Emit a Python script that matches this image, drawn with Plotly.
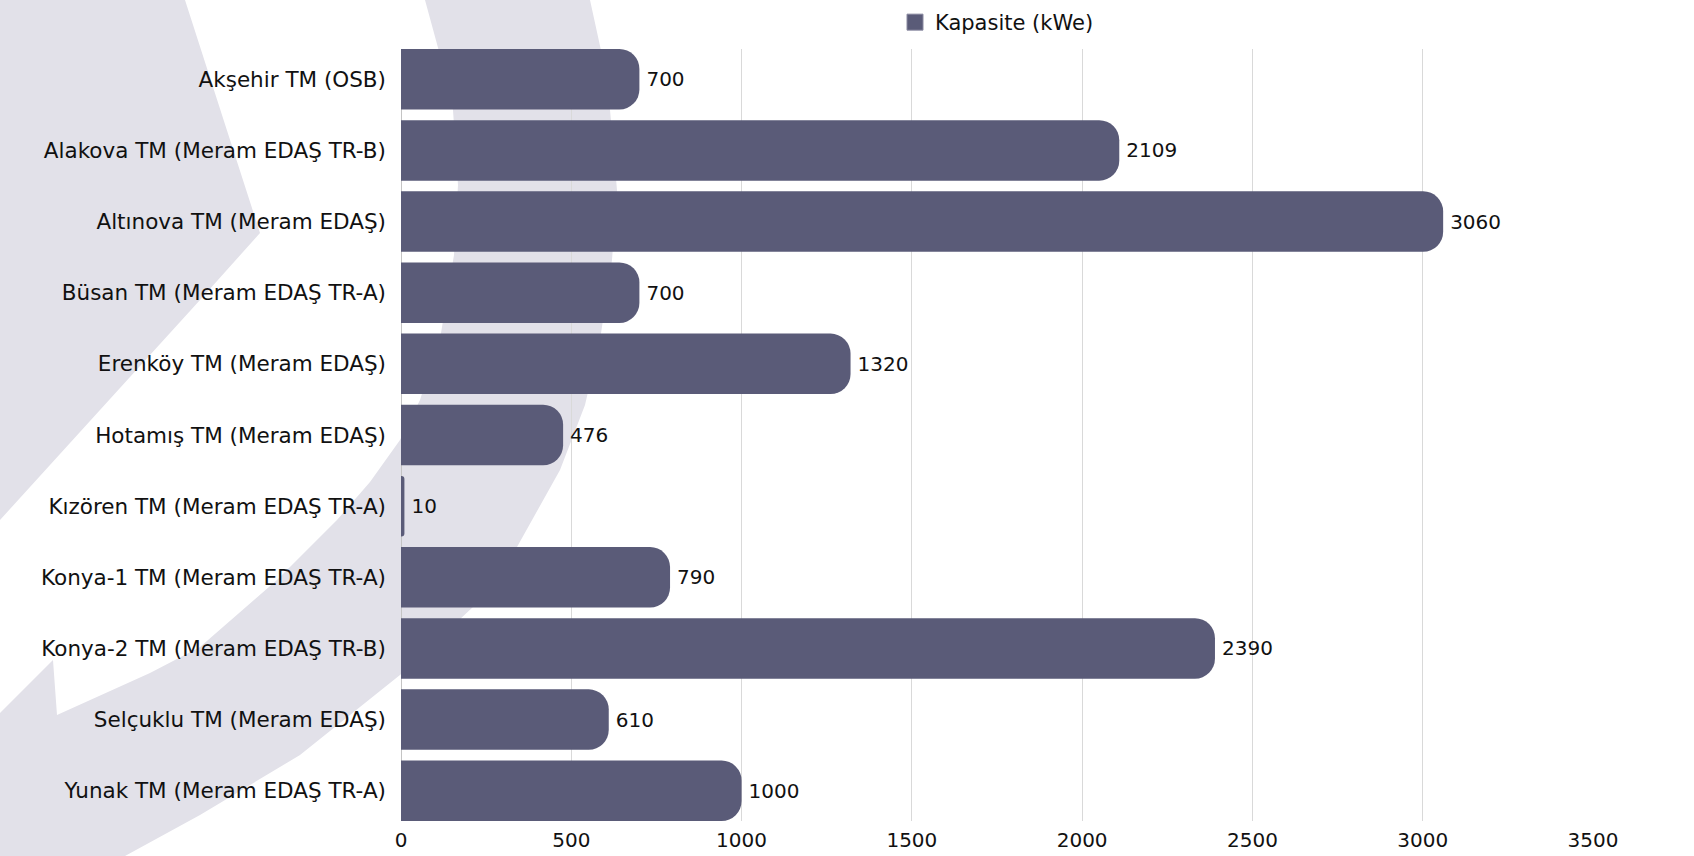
import plotly.graph_objects as go

# ---------------- data ----------------
categories = [
    "Akşehir TM (OSB)",
    "Alakova TM (Meram EDAŞ TR-B)",
    "Altınova TM (Meram EDAŞ)",
    "Büsan TM (Meram EDAŞ TR-A)",
    "Erenköy TM (Meram EDAŞ)",
    "Hotamış TM (Meram EDAŞ)",
    "Kızören TM (Meram EDAŞ TR-A)",
    "Konya-1 TM (Meram EDAŞ TR-A)",
    "Konya-2 TM (Meram EDAŞ TR-B)",
    "Selçuklu TM (Meram EDAŞ)",
    "Yunak TM (Meram EDAŞ TR-A)",
]
capacity_kwe = [700, 2109, 3060, 700, 1320, 476, 10, 790, 2390, 610, 1000]
x_tick_values = [0, 500, 1000, 1500, 2000, 2500, 3000, 3500]
series_name = "Kapasite (kWe)"

# ---------------- layout geometry (pixels) ----------------
W, H = 1694, 856
ML, MR, MT, MB = 401, 101, 49, 35
PW, PH = W - ML - MR, H - MT - MB
EDGE = 0.425  # category half-extent shown above first / below last bar

BAR_COLOR = "#5a5b78"
BG_SHAPE = "#e2e1e9"
FONT = "DejaVu Sans, Open Sans, sans-serif"
TXT = "#111111"

# decorative watermark outlines (pixel coordinates of the page)
watermark_a = [(0, 0), (185, 0), (222, 115), (260, 233), (200, 300), (0, 520)]
watermark_b = [
    (425, 0), (440, 55), (453, 110), (458, 185), (454, 255), (441, 333),
    (420, 400), (400, 440), (370, 482), (337, 520), (277, 580), (200, 647),
    (150, 673), (57, 715), (53, 660), (0, 713), (0, 856), (125, 856),
    (200, 815), (300, 755), (400, 675), (473, 607), (517, 547), (560, 470),
    (585, 405), (600, 340), (612, 260), (617, 190), (610, 110), (602, 55),
    (590, 0),
]


def to_path(pts):
    out = []
    for i, (px, py) in enumerate(pts):
        xp = (px - ML) / PW
        yp = (H - MB - py) / PH
        out.append(("M" if i == 0 else "L") + f"{xp:.5f},{yp:.5f}")
    return " ".join(out) + " Z"


fig = go.Figure()
fig.add_trace(go.Bar(
    y=categories,
    x=capacity_kwe,
    orientation="h",
    name=series_name,
    legendgroup="cap",
    showlegend=False,
    marker=dict(color=BAR_COLOR, cornerradius=20, line=dict(width=0)),
    text=[str(v) for v in capacity_kwe],
    texttemplate="\u2009%{text}",
    textposition="outside",
    textfont=dict(family=FONT, size=20, color=TXT),
    cliponaxis=False,
    hoverinfo="x+y",
))
# legend entry (larger square swatch, like the reference)
fig.add_trace(go.Scatter(
    x=[None], y=[None], mode="markers", name=series_name, legendgroup="cap",
    showlegend=True,
    marker=dict(symbol="square", size=16, color=BAR_COLOR,
                line=dict(width=1, color="#8a8aa0")),
))

shapes = []
for pts in (watermark_a, watermark_b):
    shapes.append(dict(
        type="path", xref="paper", yref="paper", path=to_path(pts),
        fillcolor=BG_SHAPE, line=dict(width=0), layer="below",
    ))

fig.update_layout(
    width=W, height=H,
    margin=dict(l=ML, r=MR, t=MT, b=MB, autoexpand=False),
    paper_bgcolor="white",
    plot_bgcolor="rgba(0,0,0,0)",
    font=dict(family=FONT, size=20, color=TXT),
    bargap=0.15,
    shapes=shapes,
    showlegend=True,
    legend=dict(
        orientation="h", x=0.5, xanchor="center",
        y=1 + (MT - 2) / PH, yanchor="top",
        font=dict(family=FONT, size=21, color=TXT),
        bgcolor="rgba(0,0,0,0)", itemsizing="trace", itemwidth=30,
    ),
    xaxis=dict(
        range=[0, 3500], tickvals=x_tick_values, ticktext=[str(v) for v in x_tick_values],
        showgrid=True, gridcolor="#d9d9d9", gridwidth=1,
        zeroline=True, zerolinecolor="#c4c4c4", zerolinewidth=1,
        showline=False, ticks="", automargin=False, ticklabelstandoff=5,
        tickfont=dict(family=FONT, size=20, color=TXT),
    ),
    yaxis=dict(
        range=[len(categories) - 1 + EDGE, -EDGE],
        showgrid=False, zeroline=False, showline=False,
        ticks="", automargin=False, ticklabelstandoff=14,
        tickfont=dict(family=FONT, size=21.5, color=TXT),
    ),
)

fig.write_html(
    "out.html",
    config={"displayModeBar": False},
    post_script="document.body.style.margin='0px';",
)
